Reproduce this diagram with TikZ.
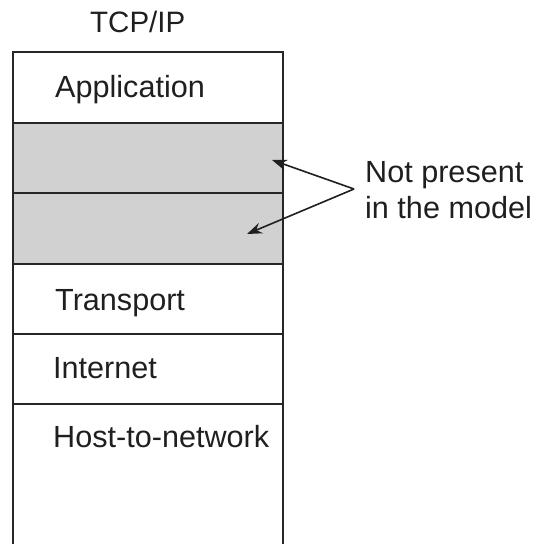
\documentclass[tikz,border=0pt]{standalone}
\usepackage{fontspec}
\setmainfont{Liberation Sans}
\usetikzlibrary{arrows.meta}
\begin{document}
\begin{tikzpicture}[x=1pt,y=-1pt,
  layer/.style={draw=black!85, line width=1.8pt},
  absent/.style={layer, fill=black!18},
  lbl/.style={anchor=base west, inner sep=0pt, font=\fontsize{30.6}{36}\selectfont, text=black!88},
  pointer/.style={draw=black!88, line width=1.6pt, -{Stealth[length=15pt,width=11pt]}}]
\useasboundingbox (0,0) rectangle (534,544);
% layers
\draw[layer] (13,52) rectangle (283,123);
\draw[absent] (13,123) rectangle (283,193);
\draw[absent] (13,193) rectangle (283,264);
\draw[layer] (13,264) rectangle (283,334);
\draw[layer] (13,334) rectangle (283,404);
\draw[layer] (13,550) -- (13,404) -- (283,404) -- (283,550);
% labels
\node[lbl, font=\fontsize{29.5}{34}\selectfont] (title) at (90,32) {TCP/IP};
\node[lbl] (app) at (55,97) {Application};
\node[lbl] (trans) at (55,310) {Transport};
\node[lbl] (inet) at (53,378) {Internet};
\node[lbl] (host) at (53,447) {Host-to-network};
\node[lbl] (np1) at (365,182) {Not present};
\node[lbl] (np2) at (365,218) {in the model};
% arrows
\coordinate (src) at (354,189);
\coordinate (t1) at (272,160);
\coordinate (t2) at (247,234);
\draw[pointer] (src) -- (t1);
\draw[pointer] (src) -- (t2);
\end{tikzpicture}
\end{document}
